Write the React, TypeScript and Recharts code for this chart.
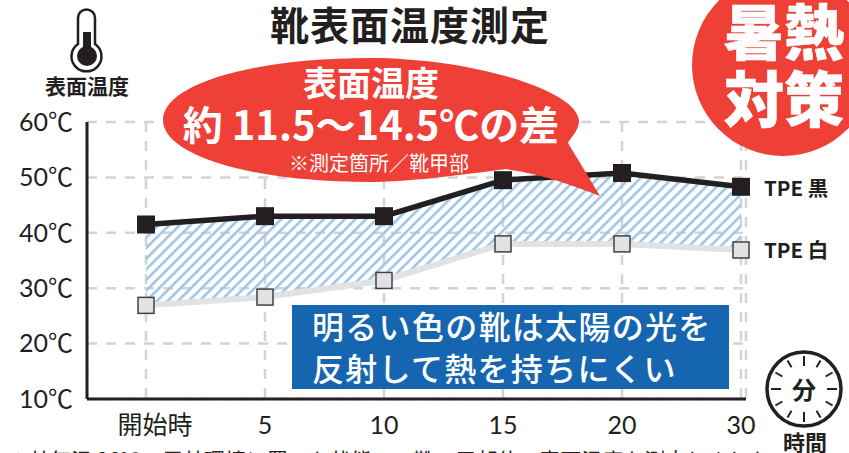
import { ComposedChart, Area, Line, XAxis, YAxis, CartesianGrid } from "recharts";

const minutes = ["開始時", "5", "10", "15", "20", "30"];
const tpeBlack = [41.5, 43, 43, 49.5, 50.8, 48.3];
const tpeWhite = [26.9, 28.4, 31.4, 38, 38, 36.9];
const tempTicks = [10, 20, 30, 40, 50, 60];

const chartData = minutes.map((m, i) => ({
  minute: m,
  black: tpeBlack[i],
  white: tpeWhite[i],
  gap: [tpeWhite[i], tpeBlack[i]],
}));

const JP = "'Noto Sans CJK JP', sans-serif";
const TICK_FONT = "Lato, " + JP;
const RED = "#ef4037";
const DARK = "#231f20";

function BlackDot({ cx, cy }: any) {
  return <rect x={cx - 9} y={cy - 9} width={18} height={18} fill={DARK} />;
}

function WhiteDot({ cx, cy }: any) {
  return <rect x={cx - 8} y={cy - 8} width={16} height={16} fill="#e1e2e4" stroke="#414042" strokeWidth={1.5} />;
}

// the first label sits a little right of its gridline in the original
function MinuteTick({ x, y, payload }: any) {
  const dx = payload.value === minutes[0] ? 9 : 0;
  return (
    <text x={x + dx} y={y + 27} textAnchor="middle" fontSize={25} fill={DARK} fontFamily={TICK_FONT}>
      {payload.value}
    </text>
  );
}

export default function App() {
  return (
    <div style={{ position: "absolute", left: 0, top: 0, width: 849, height: 453, overflow: "hidden", background: "#fff", fontFamily: JP }}>
      <ComposedChart
        width={849}
        height={453}
        data={chartData}
        margin={{ top: 122, right: 103, bottom: 24, left: 0 }}
        style={{ position: "absolute", left: 0, top: 0 }}
      >
        <defs>
          <pattern id="hatch" width="7.5" height="7.5" patternUnits="userSpaceOnUse" patternTransform="rotate(45)">
            <rect width="2.6" height="7.5" fill="#9fc5e8" />
          </pattern>
        </defs>
        <CartesianGrid stroke="#d1d3d4" strokeWidth={2.5} strokeDasharray="10 9" />
        <XAxis
          dataKey="minute"
          height={30}
          padding={{ left: 59, right: 5 }}
          tick={<MinuteTick />}
          tickLine={false}
          axisLine={{ stroke: DARK, strokeWidth: 3 }}
          interval={0}
        />
        <YAxis
          domain={[10, 60]}
          ticks={tempTicks}
          tickFormatter={(v: number) => `${v}℃`}
          tick={{ fontSize: 25, fill: DARK, fontFamily: TICK_FONT }}
          tickLine={false}
          axisLine={{ stroke: DARK, strokeWidth: 3 }}
          width={87}
          tickMargin={8}
        />
        <Area dataKey="gap" stroke="none" fill="url(#hatch)" fillOpacity={1} isAnimationActive={false} />
        <Line dataKey="white" stroke="#e1e2e4" strokeWidth={6} dot={<WhiteDot />} activeDot={false} isAnimationActive={false} />
        <Line dataKey="black" stroke={DARK} strokeWidth={5.5} dot={<BlackDot />} activeDot={false} isAnimationActive={false} />
      </ComposedChart>

      <svg width={849} height={453} style={{ position: "absolute", left: 0, top: 0 }}>
        <text x={410} y={40} textAnchor="middle" fontSize={39} fontWeight={700} fill={DARK} letterSpacing={1}>靴表面温度測定</text>

        {/* thermometer */}
        <path d="M78 44 V18 a8.5 8.5 0 0 1 17 0 V44 a15 15 0 1 1 -17 0 Z" fill="#fff" stroke={DARK} strokeWidth={2.5} />
        <rect x={83} y={32} width={8} height={24} fill={DARK} />
        <circle cx={87} cy={56} r={10} fill={DARK} />
        <text x={87} y={94} textAnchor="middle" fontSize={21} fontWeight={700} fill={DARK}>表面温度</text>

        {/* callout */}
        <path
          d="M163 120 C163 85 250 58 370 58 C470 58 580 90 579 122 C578 132 570 138 568 143 L600 196 C560 180 530 172 505 169 C440 178 400 182 370 182 C250 182 163 155 163 120 Z"
          fill={RED}
        />
        <text x={371} y={96} textAnchor="middle" fontSize={34} fontWeight={700} fill="#fff">表面温度</text>
        <text x={371} y={140} textAnchor="middle" fontSize={40} fontWeight={700} fill="#fff">約 11.5〜14.5℃の差</text>
        <text x={379} y={171} textAnchor="middle" fontSize={20} fill="#fff">※測定箇所／靴甲部</text>

        {/* badge */}
        <circle cx={783} cy={65} r={91} fill={RED} />
        <text x={784} y={55} textAnchor="middle" fontSize={60} fontWeight={900} fill="#fff" stroke="#fff" strokeWidth={0.6}>暑熱</text>
        <text x={784} y={122} textAnchor="middle" fontSize={60} fontWeight={900} fill="#fff" stroke="#fff" strokeWidth={0.6}>対策</text>

        <text x={764} y={196} fontSize={20.5} fontWeight={700} fill={DARK}>TPE 黒</text>
        <text x={764} y={258} fontSize={20.5} fontWeight={700} fill={DARK}>TPE 白</text>

        {/* message box */}
        <rect x={292} y={305} width={437} height={84} fill="#1565b0" />
        <text x={312} y={339} fontSize={32} fontWeight={500} fill="#fff" letterSpacing={1.3}>明るい色の靴は太陽の光を</text>
        <text x={312} y={381} fontSize={32} fontWeight={500} fill="#fff" letterSpacing={1.3}>反射して熱を持ちにくい</text>

        {/* clock */}
        <circle cx={804} cy={389} r={37} fill="#fff" stroke={DARK} strokeWidth={3.5} />
        {[0, 30, 60, 90, 120, 150, 180, 210, 240, 270, 300, 330].map((a) => (
          <line key={a} x1={804} y1={356} x2={804} y2={a % 90 === 0 ? 366 : 364} stroke={DARK} strokeWidth={2} transform={`rotate(${a} 804 389)`} />
        ))}
        <text x={804} y={399} textAnchor="middle" fontSize={24} fontWeight={700} fill={DARK}>分</text>
        <text x={805} y={451} textAnchor="middle" fontSize={22} fontWeight={700} fill={DARK}>時間</text>

        <text x={8} y={468} fontSize={21} fill={DARK}>※外気温 26℃、屋外環境に置いた状態で、靴の甲部位の表面温度を測定しました</text>
      </svg>
    </div>
  );
}
